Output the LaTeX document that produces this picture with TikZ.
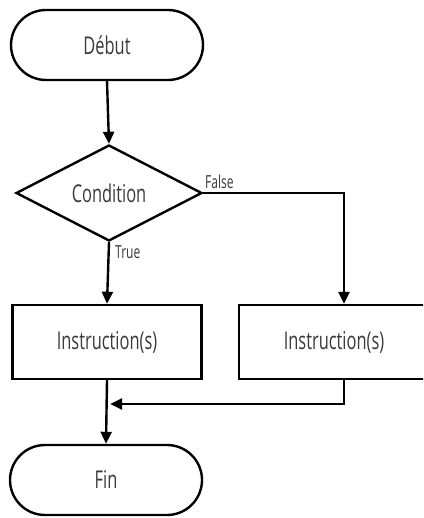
\documentclass[tikz,border=0pt]{standalone}
\usepackage{fontspec}
\setmainfont[FakeStretch=0.67]{Open Sans}
\usetikzlibrary{shapes.geometric,shapes.misc,arrows.meta}
\definecolor{txt}{HTML}{3A3A3A}
\tikzset{
  term/.style={draw, line width=2.4pt, rounded rectangle, minimum width=192pt, minimum height=70pt, inner sep=0pt, font=\fontsize{24.5}{27}\selectfont, text=txt},
  decision/.style={draw, line width=2.4pt, diamond, aspect=2, minimum width=186pt, minimum height=96pt, inner sep=0pt, font=\fontsize{24.5}{27}\selectfont, text=txt},
  process/.style={draw, line width=2.4pt, rectangle, minimum height=74pt, inner sep=0pt, font=\fontsize{24.5}{27}\selectfont, text=txt},
  flow/.style={line width=2.4pt, -{Triangle[length=12pt,width=11pt]}},
  lbl/.style={font=\fontsize{18}{20}\selectfont, text=txt, inner sep=0pt}
}
\begin{document}
\begin{tikzpicture}[x=1pt,y=-1pt]
\useasboundingbox (0,0) rectangle (423,518);
\fill[white] (0,0) rectangle (423,518);
\clip (0,0) rectangle (423,518);
\node[term] (debut) at (107,45) {Début};
\node[decision] (cond) at (109,193) {Condition};
\node[process, minimum width=189pt] (lbox) at (107,342) {Instruction(s)};
\node[process, minimum width=210pt] (rbox) at (344,342) {Instruction(s)\hspace*{20pt}};
\node[term] (fin) at (106,480) {Fin};
\coordinate (m) at (109,404);
\draw[flow] (debut.south) -- (cond.north);
\draw[flow] (cond.east) -| (rbox.north);
\draw[flow] (cond.south) -- (lbox.north);
\draw[flow] (lbox.south) -- (fin.north);
\draw[flow, shorten >=1.2pt] (rbox.south) |- (m);
\node[lbl, anchor=south west] (false) at (205,189) {False};
\node[lbl, anchor=north west] (true) at (115,245) {True};
\end{tikzpicture}
\end{document}
